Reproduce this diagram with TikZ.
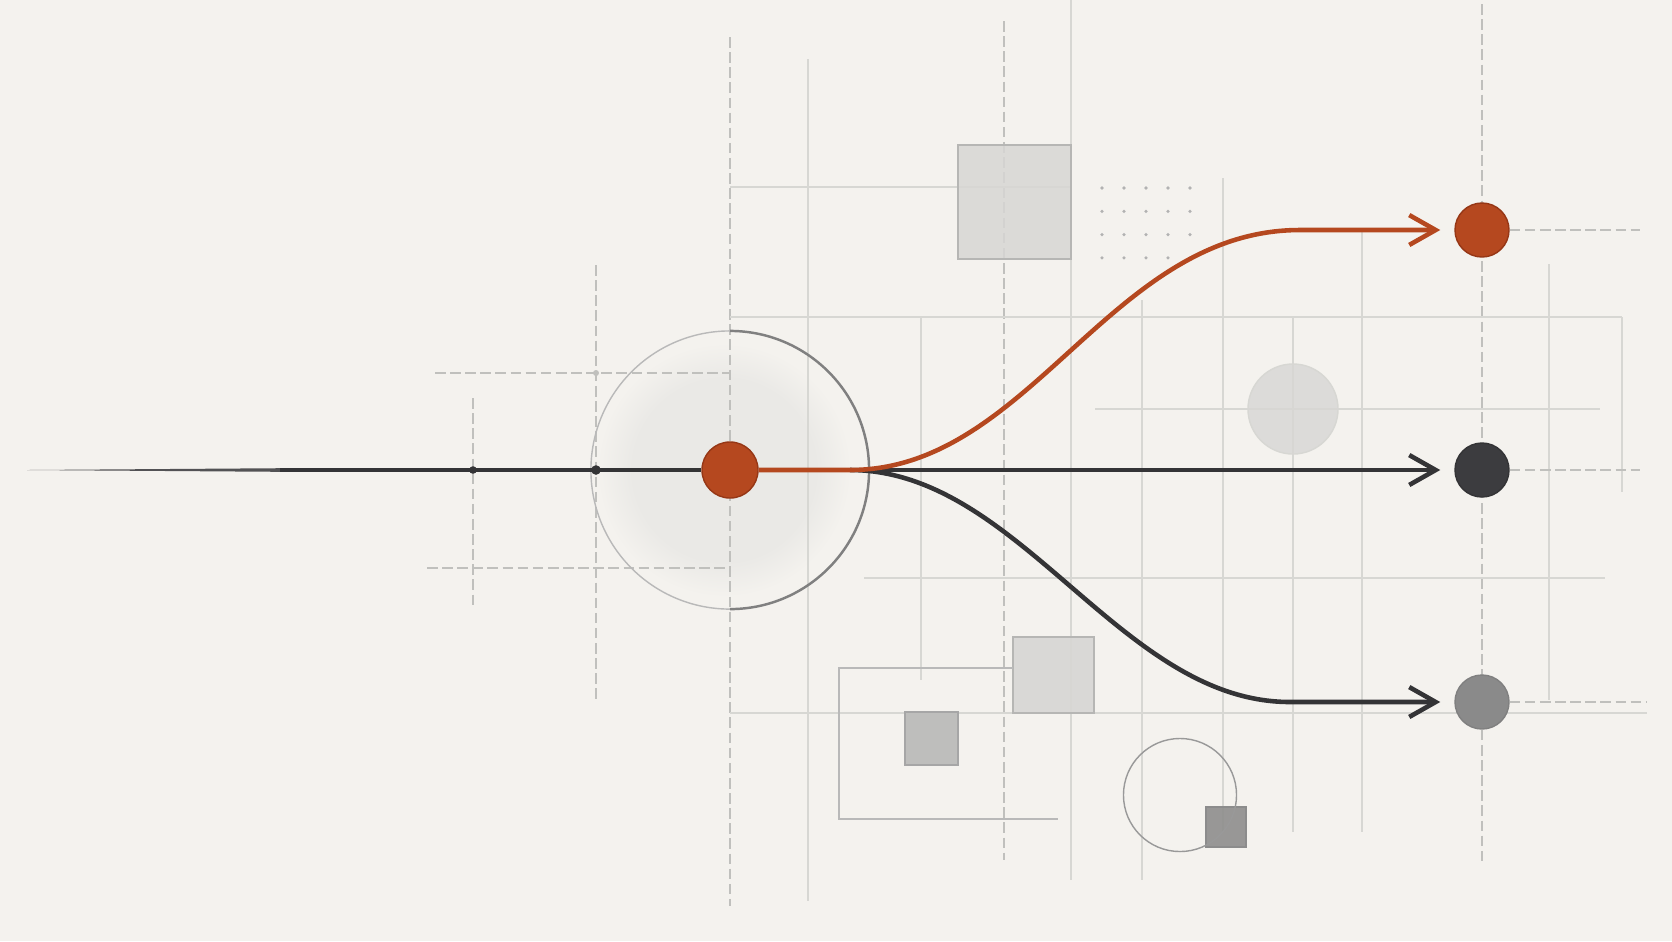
\documentclass[tikz,border=0pt]{standalone}
\usetikzlibrary{arrows.meta}
\definecolor{bg}{RGB}{244,242,238}
\definecolor{gridc}{RGB}{215,215,211}
\definecolor{dashc}{RGB}{192,192,189}
\definecolor{ink}{RGB}{52,52,54}
\definecolor{rust}{RGB}{181,72,31}
\definecolor{rustdark}{RGB}{150,55,22}
\definecolor{darkdot}{RGB}{60,60,63}
\definecolor{graydot}{RGB}{138,138,138}
\definecolor{disk}{RGB}{234,233,230}
\definecolor{sqlight}{RGB}{215,214,212}
\definecolor{sqmid}{RGB}{190,190,188}
\definecolor{sqdark}{RGB}{142,142,141}
\definecolor{edgec}{RGB}{182,182,180}
\pgfdeclareradialshading{softdisk}{\pgfpoint{0bp}{0bp}}{color(0bp)=(disk); color(18bp)=(disk); color(25bp)=(bg); color(50bp)=(bg)}
\tikzset{
  gridl/.style={draw=gridc, line width=0.3pt},
  gridd/.style={draw=dashc, line width=0.3pt, dash pattern=on 3pt off 1.3pt},
  targ/.style={circle, minimum size=0.54cm, inner sep=0pt, line width=0.4pt},
  flow/.style={line width=1.3pt, -{Straight Barb[length=7.5pt, width=8.5pt]}, shorten >=0.14cm},
  panel/.style={line width=0.4pt},
}
\begin{document}
\begin{tikzpicture}[x=0.01cm, y=-0.01cm]
\fill[bg] (0,0) rectangle (1672,941);
\useasboundingbox (0,0) rectangle (1672,941);

% soft disk behind the source
\shade[shading=softdisk] (724,470) circle (1.27cm);

% vertical grid lines
\draw[gridd] (730,37) -- (730,906);
\draw[gridl] (808,59) -- (808,901);
\draw[gridl] (921,317) -- (921,680);
\draw[gridd] (1004,21) -- (1004,860);
\draw[gridl] (1071,0) -- (1071,880);
\draw[gridl] (1142,300) -- (1142,880);
\draw[gridl] (1223,178) -- (1223,832);
\draw[gridl] (1293,317) -- (1293,832);
\draw[gridl] (1362,232) -- (1362,832);
\draw[gridd] (1482,4) -- (1482,864);
\draw[gridl] (1549,264) -- (1549,700);
\draw[gridl] (1622,317) -- (1622,492);
% left crosshairs
\draw[gridd] (473,398) -- (473,607);
\draw[gridd] (596,265) -- (596,700);
\draw[gridd] (435,373) -- (730,373);
\draw[gridd] (427,568) -- (730,568);
\fill[dashc] (596,373) circle (0.03cm);
% horizontal grid lines
\draw[gridl] (730,187) -- (1071,187);
\draw[gridl] (730,317) -- (1622,317);
\draw[gridl] (1095,409) -- (1600,409);
\draw[gridl] (864,578) -- (1605,578);
\draw[gridl] (730,713) -- (1647,713);

% large circle around the source
\draw[draw=gray!55, line width=0.4pt] (730,470) ++(90:1.39cm) arc[start angle=90, end angle=270, radius=1.39cm];
\draw[draw=gray!100, line width=0.7pt] (730,470) ++(270:1.39cm) arc[start angle=270, end angle=450, radius=1.39cm];

% decorative shapes
\filldraw[panel, fill=sqlight, draw=edgec, fill opacity=0.85] (958,145) rectangle (1071,259);
\foreach \i in {0,...,4}{\foreach \j in {0,...,3}{
  \fill[gray!60] ({1102+22*\i},{188+23.3*\j}) circle (0.018cm);}}
\filldraw[panel, fill=sqlight, draw=gridc, fill opacity=0.8] (1293,409) circle (0.45cm);
\filldraw[panel, fill=sqlight, draw=edgec, fill opacity=0.9] (1013,637) rectangle (1094,713);
\filldraw[panel, fill=sqmid, draw=gray!70] (905,712) rectangle (958,765);
\draw[panel, draw=gray!55] (1013,668) -- (839,668) -- (839,819) -- (1058,819);
\filldraw[panel, fill=sqdark, draw=gray!90, fill opacity=0.9] (1206,807) rectangle (1246,847);
\draw[panel, draw=gray!80] (1180,795) circle (0.565cm);

% nodes
\coordinate (start) at (27,470);
\coordinate (fork) at (850,470);
\node[targ, fill=rust, draw=rustdark] (t1) at (1482,230) {};
\node[targ, fill=darkdot, draw=ink] (t2) at (1482,470) {};
\node[targ, fill=graydot, draw=gray] (t3) at (1482,702) {};

% dashed extensions
\draw[gridd] (t1.east) -- (1640,230);
\draw[gridd] (t2.east) -- (1640,470);
\draw[gridd] (t3.east) -- (1647,702);

% incoming main line (tapered)
\fill[ink!85] (start) -- (280,468.2) -- (280,471.8) -- cycle;
\node[targ, minimum size=0.56cm, fill=rust, draw=rustdark] (src) at (730,470) {};
\draw[ink, line width=1.05pt] (280,470) -- (src);
\fill[ink] (473,470) circle (0.038cm);
\fill[ink] (596,470) circle (0.048cm);

% outgoing flows
\draw[flow, draw=ink] (src) -- (t2);
\draw[flow, draw=ink] (fork) .. controls (1020,470) and (1120,702) .. (1290,702) -- (t3);
\draw[flow, draw=rust] (src) -- (fork) .. controls (1030,470) and (1110,230) .. (1300,230) -- (t1);
\end{tikzpicture}
\end{document}
